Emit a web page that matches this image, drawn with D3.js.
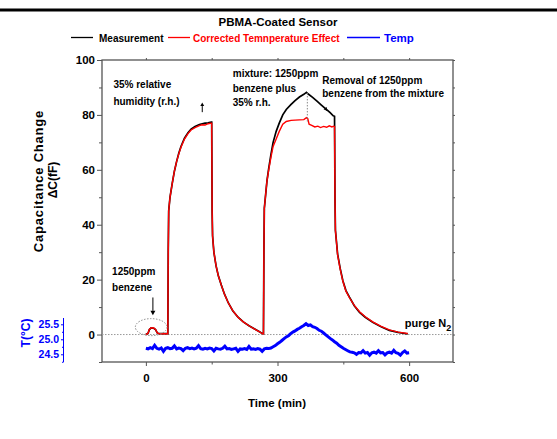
<!DOCTYPE html>
<html>
<head>
<meta charset="utf-8">
<script src="https://cdn.jsdelivr.net/npm/d3@7"></script>
<style>
  body { margin: 0; background: #fff; }
  svg { display: block; font-family: "Liberation Sans", Arial, sans-serif; font-weight: bold; }
</style>
</head>
<body>
<div id="chart"></div>
<script>
// time (min), capacitance change (fF)
const measurementPoints = [
  [0, 0], [5, 0.5], [8, 1.8], [12, 2.4], [18, 2.3], [22, 1.8], [26, 0.6], [30, 0.3], [40, 0.3], [50, 0.3],
  [51, 30], [52, 45], [55, 50], [60, 55], [65, 59.5], [70, 63], [75, 66], [80, 68.5], [88, 71.5], [96, 73.5],
  [103, 74.8], [112, 75.8], [122, 76.5], [135, 77], [142, 77.1], [149, 77.4], [150, 77.4],
  [151, 45], [152, 36], [155, 30], [160, 25], [165, 21.5], [172, 18], [179, 14.8], [188, 11.5], [198, 8.7],
  [210, 6.3], [222, 4.6], [235, 3.2], [248, 2], [258, 1.1], [266, 0.3], [268, 0.3],
  [269, 30], [270, 46], [273, 51], [276, 56], [280, 60.5], [285, 65.5], [290, 70], [297, 74], [304, 77],
  [312, 80], [320, 82], [331, 83.8], [340, 85.2], [350, 86.5], [360, 87.5], [366, 88.2], [370, 87.6],
  [380, 86.4], [390, 85], [400, 83.6], [410, 82.2], [420, 80.8], [427, 79.7], [430, 79.5],
  [431, 50], [432, 38], [437, 29.3], [443, 24], [449, 19.6], [456, 16], [464, 13.6], [475, 10.5],
  [487, 8.1], [500, 6.3], [517, 4.5], [535, 2.9], [555, 1.5], [575, 0.8], [597, 0.2]
];

const correctedPoints = [
  [0, 0], [5, 0.5], [8, 1.9], [12, 2.5], [18, 2.4], [22, 1.9], [26, 0.6], [30, 0.3], [40, 0.3], [50, 0.3],
  [51, 30], [52, 45], [55, 50], [60, 55], [65, 59.5], [70, 63], [75, 65.8], [80, 68.2], [88, 71.2], [96, 73.2],
  [103, 74.5], [112, 75.4], [122, 76.1], [128, 76.4], [135, 76.3], [142, 76.8], [149, 77], [150, 77],
  [151, 45], [152, 36], [155, 30], [160, 25], [165, 21.5], [172, 18], [179, 14.8], [188, 11.5], [198, 8.7],
  [210, 6.3], [222, 4.6], [235, 3.2], [248, 2], [258, 1.1], [266, 0.3], [268, 0.3],
  [269, 30], [270, 46], [273, 51], [276, 56], [280, 60], [285, 64.5], [290, 68.5], [297, 71.2], [304, 74],
  [312, 76.6], [320, 77.6], [331, 78], [340, 78.1], [350, 78.2], [360, 78.3], [366, 79], [369, 78.6],
  [372, 76.6], [378, 76.2], [385, 75.6], [392, 75.9], [398, 75.4], [405, 75.8], [412, 75.5], [418, 76],
  [424, 75.6], [428, 75.9], [430, 75.8],
  [431, 50], [432, 38], [437, 29], [443, 23.7], [449, 19.4], [456, 15.8], [464, 13.4], [475, 10.6],
  [487, 8.3], [500, 6.5], [517, 4.6], [535, 3.1], [555, 1.7], [575, 0.9], [597, 0.4]
];

// temperature (°C), sampled every 5 min from 0 to 600
const tempTimes = d3.range(0, 601, 5);
const tempValues = [
  24.70, 24.68, 24.72, 24.69, 24.80, 24.70, 24.67, 24.71, 24.60, 24.70,
  24.72, 24.69, 24.70, 24.78, 24.68, 24.71, 24.69, 24.62, 24.70, 24.72,
  24.69, 24.71, 24.68, 24.70, 24.79, 24.69, 24.67, 24.70, 24.68, 24.71,
  24.69, 24.61, 24.70, 24.68, 24.67, 24.70, 24.77, 24.68, 24.69, 24.66,
  24.68, 24.70, 24.60, 24.68, 24.67, 24.69, 24.66, 24.76, 24.67, 24.68,
  24.66, 24.69, 24.67, 24.60, 24.68, 24.70, 24.69,
  24.71, 24.75, 24.79, 24.85, 24.90, 24.96, 25.02, 25.08, 25.12, 25.19,
  25.24, 25.28, 25.33, 25.37, 25.42, 25.46, 25.52, 25.46, 25.48, 25.42,
  25.40, 25.36, 25.30, 25.27, 25.21, 25.15, 25.09, 25.03, 24.98, 24.92,
  24.87, 24.80, 24.75, 24.70, 24.66, 24.62, 24.58, 24.57, 24.55, 24.50,
  24.56, 24.55, 24.62, 24.54, 24.56, 24.47, 24.55, 24.57, 24.54, 24.62,
  24.55, 24.56, 24.48, 24.55, 24.57, 24.54, 24.63, 24.55, 24.53, 24.47,
  24.56, 24.61, 24.54, 24.55
];

const xTicksMajor = [0, 300, 600];
const xTicksMinor = [150, 450];
const yTicksMajor = [0, 20, 40, 60, 80, 100];
const yTicksMinor = [-10, 10, 30, 50, 70, 90];
const tempTicks = [24.5, 25.0, 25.5];
const tempTicksMinor = [24.25, 24.75, 25.25];

const legendItems = [
  { label: "Measurement", color: "#000000" },
  { label: "Corrected Temnperature Effect", color: "#ff0000" },
  { label: "Temp", color: "#0000ff" },
];

const width = 557;
const height = 439;
const margin = { top: 60, right: 104, bottom: 77, left: 102 };
const frameColor = "#555";

const svg = d3.select("#chart")
  .append("svg")
  .attr("width", width)
  .attr("height", height)
  .attr("viewBox", `0 0 ${width} ${height}`);

const xScale = d3.scaleLinear().domain([-100, 700]).range([margin.left, width - margin.right]);
const yScale = d3.scaleLinear().domain([-10, 100]).range([height - margin.bottom, margin.top]);
const tScale = d3.scaleLinear().domain([24.243, 25.71]).range([height - margin.bottom, 318]);

const plotLeft = margin.left;
const plotRight = width - margin.right;
const plotTop = margin.top;
const plotBottom = height - margin.bottom;

// top rule
svg.append("line")
  .attr("x1", 0).attr("x2", width)
  .attr("y1", 10).attr("y2", 10)
  .attr("stroke", "#000").attr("stroke-width", 3);

// title
svg.append("text")
  .attr("x", 278).attr("y", 26)
  .attr("text-anchor", "middle")
  .attr("font-size", 11.5)
  .text("PBMA-Coated Sensor");

// legend
const legendLayout = [
  { x1: 71, x2: 93, tx: 99, size: 10 },
  { x1: 168, x2: 190, tx: 193, size: 10 },
  { x1: 347, x2: 380, tx: 384, size: 11.5 },
];
legendItems.forEach((item, i) => {
  const pos = legendLayout[i];
  svg.append("line")
    .attr("x1", pos.x1).attr("x2", pos.x2)
    .attr("y1", 37.5).attr("y2", 37.5)
    .attr("stroke", item.color).attr("stroke-width", 1.3);
  svg.append("text")
    .attr("x", pos.tx).attr("y", 41.5)
    .attr("font-size", pos.size)
    .attr("fill", item.color)
    .text(item.label);
});

// axes
function styleAxis(g) {
  g.select(".domain").remove();
  g.selectAll(".tick line").attr("stroke", frameColor);
  g.selectAll(".tick text").attr("fill", "#000").attr("font-size", 11.5).attr("font-weight", "bold").attr("font-family", "Liberation Sans, Arial, sans-serif");
}

svg.append("g")
  .attr("transform", `translate(0,${plotBottom})`)
  .call(d3.axisBottom(xScale).tickValues(xTicksMajor).tickSize(4).tickPadding(8).tickFormat(d3.format("d")))
  .call(styleAxis);
svg.append("g")
  .attr("transform", `translate(0,${plotBottom})`)
  .call(d3.axisBottom(xScale).tickValues(xTicksMinor).tickSize(2.5).tickFormat(""))
  .call(styleAxis);
svg.append("g")
  .attr("transform", `translate(0,${plotTop})`)
  .call(d3.axisTop(xScale).tickValues(xTicksMajor.concat(xTicksMinor)).tickSize(2).tickFormat(""))
  .call(styleAxis);

svg.append("g")
  .attr("transform", `translate(${plotLeft},0)`)
  .call(d3.axisLeft(yScale).tickValues(yTicksMajor).tickSize(5).tickPadding(2).tickFormat(d3.format("d")))
  .call(styleAxis);
svg.append("g")
  .attr("transform", `translate(${plotLeft},0)`)
  .call(d3.axisLeft(yScale).tickValues(yTicksMinor).tickSize(3).tickFormat(""))
  .call(styleAxis);
svg.append("g")
  .attr("transform", `translate(${plotRight},0)`)
  .call(d3.axisRight(yScale).tickValues(yTicksMajor.concat(yTicksMinor)).tickSize(2).tickFormat(""))
  .call(styleAxis);

// frame
svg.append("rect")
  .attr("x", plotLeft).attr("y", plotTop)
  .attr("width", plotRight - plotLeft).attr("height", plotBottom - plotTop)
  .attr("fill", "none").attr("stroke", frameColor).attr("stroke-width", 1.3);

// temperature axis
const tempAxisX = 63.5;
const tempAxis = svg.append("g")
  .attr("transform", `translate(${tempAxisX},0)`)
  .call(d3.axisLeft(tScale).tickValues(tempTicks).tickSize(2.5).tickPadding(2).tickFormat(d3.format(".1f")));
tempAxis.select(".domain").remove();
tempAxis.selectAll(".tick line").attr("stroke", "#0000ff");
tempAxis.selectAll(".tick text").attr("fill", "#0000ff").attr("font-size", 10.5).attr("font-weight", "bold").attr("font-family", "Liberation Sans, Arial, sans-serif");
svg.append("g")
  .attr("transform", `translate(${tempAxisX},0)`)
  .call(d3.axisLeft(tScale).tickValues(tempTicksMinor).tickSize(1.5).tickFormat(""))
  .call((g) => { g.select(".domain").remove(); g.selectAll(".tick line").attr("stroke", "#0000ff"); });
svg.append("line")
  .attr("x1", tempAxisX).attr("x2", tempAxisX)
  .attr("y1", tScale.range()[1]).attr("y2", tScale.range()[0])
  .attr("stroke", "#0000ff").attr("stroke-width", 1);

svg.append("text")
  .attr("transform", `translate(30,333) rotate(-90)`)
  .attr("text-anchor", "middle")
  .attr("font-size", 12)
  .attr("fill", "#0000ff")
  .text("T(°C)");

// axis titles
svg.append("text")
  .attr("x", 277).attr("y", 407)
  .attr("text-anchor", "middle")
  .attr("font-size", 11.5)
  .text("Time (min)");

svg.append("text")
  .attr("transform", "translate(43,181) rotate(-90)")
  .attr("text-anchor", "middle")
  .attr("font-size", 13)
  .attr("letter-spacing", 0.8)
  .text("Capacitance Change");

svg.append("text")
  .attr("transform", "translate(57,180) rotate(-90)")
  .attr("text-anchor", "middle")
  .attr("font-size", 12)
  .text("ΔC(fF)");

// zero reference
svg.append("line")
  .attr("x1", plotLeft).attr("x2", plotRight)
  .attr("y1", yScale(0)).attr("y2", yScale(0))
  .attr("stroke", "#999").attr("stroke-width", 1)
  .attr("stroke-dasharray", "1.5 1.5");

// series
const line = d3.line().x((d) => xScale(d[0])).y((d) => yScale(d[1]));
const tempLine = d3.line().x((d) => xScale(d[0])).y((d) => tScale(d[1]));

svg.append("path")
  .datum(tempTimes.map((t, i) => [t, tempValues[i]]))
  .attr("fill", "none").attr("stroke", "#0000ff").attr("stroke-width", 3)
  .attr("d", tempLine);

svg.append("path")
  .datum(measurementPoints)
  .attr("fill", "none").attr("stroke", "#000").attr("stroke-width", 1.7)
  .attr("d", line);

svg.append("path")
  .datum(correctedPoints)
  .attr("fill", "none").attr("stroke", "#ff0000").attr("stroke-width", 1.4)
  .attr("d", line);

// annotations (data coordinates)
const annotations = [
  { t: -74, v: 89.7, lines: ["35% relative", "humidity (r.h.)"], dy: 6.1 },
  { t: 198, v: 93.7, lines: ["mixture: 1250ppm", "benzene plus", "35% r.h."], dy: 5.2 },
  { t: 402, v: 91.3, lines: ["Removal of 1250ppm", "benzene from the mixture"], dy: 4.9 },
  { t: -77, v: 21.7, lines: ["1250ppm", "benzene"], dy: 5.9 },
];
annotations.forEach((a) => {
  a.lines.forEach((txt, i) => {
    svg.append("text")
      .attr("x", xScale(a.t))
      .attr("y", yScale(a.v - i * a.dy))
      .attr("font-size", 10)
      .text(txt);
  });
});

const purge = svg.append("text")
  .attr("x", xScale(590))
  .attr("y", yScale(2.7))
  .attr("font-size", 11);
purge.append("tspan").text("purge N");
purge.append("tspan").attr("font-size", 9).attr("dy", 3.5).text("2");

// dotted ellipse around the benzene bump
svg.append("ellipse")
  .attr("cx", xScale(12)).attr("cy", yScale(2.7))
  .attr("rx", xScale(36) - xScale(0)).attr("ry", yScale(0) - yScale(3.1))
  .attr("fill", "none").attr("stroke", "#888").attr("stroke-width", 1)
  .attr("stroke-dasharray", "1.5 1.5");

// dotted drop line at the mixture peak
svg.append("line")
  .attr("x1", xScale(368)).attr("x2", xScale(368))
  .attr("y1", yScale(88)).attr("y2", yScale(77.5))
  .attr("stroke", "#888").attr("stroke-width", 1)
  .attr("stroke-dasharray", "1.5 1.5");

function drawArrow(t1, v1, t2, v2, head = 4) {
  const x1 = xScale(t1), y1 = yScale(v1), x2 = xScale(t2), y2 = yScale(v2);
  const ang = Math.atan2(y2 - y1, x2 - x1);
  const bx = x2 - head * Math.cos(ang), by = y2 - head * Math.sin(ang);
  svg.append("line")
    .attr("x1", x1).attr("y1", y1).attr("x2", bx).attr("y2", by)
    .attr("stroke", "#000").attr("stroke-width", 1);
  const w = head * 0.55;
  const px = -Math.sin(ang) * w, py = Math.cos(ang) * w;
  svg.append("path")
    .attr("d", `M${x2},${y2}L${bx + px},${by + py}L${bx - px},${by - py}Z`)
    .attr("fill", "#000");
}

drawArrow(128.5, 81, 128.5, 84.5, 3.5);
drawArrow(16, 13.5, 16, 7, 4.5);
drawArrow(408, 82.6, 413, 81.4, 3.5);
</script>
</body>
</html>
